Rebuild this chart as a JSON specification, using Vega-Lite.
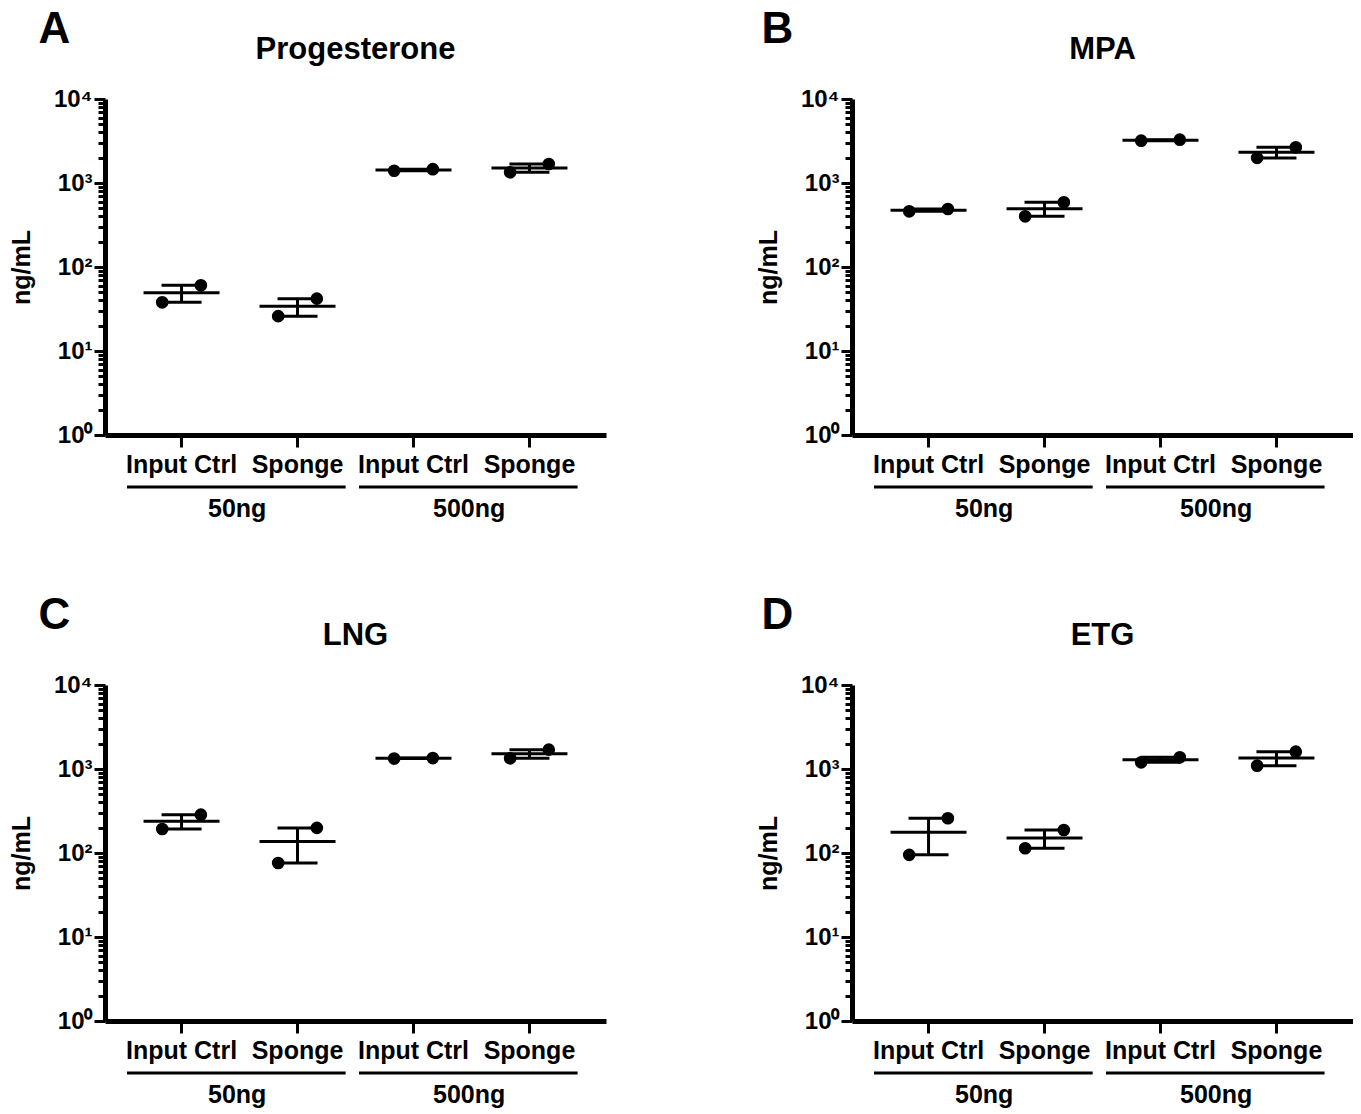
{
  "$schema": "https://vega.github.io/schema/vega-lite/v6.json",
  "background": "white",
  "padding": {"left": 9, "top": 8, "right": 0, "bottom": 0},
  "config": {
    "font": "Liberation Sans",
    "view": {"stroke": null},
    "title": {"color": "black", "fontWeight": "bold"},
    "axis": {"labelColor": "black", "titleColor": "black", "domainColor": "black", "tickColor": "black", "grid": false}
  },
  "datasets": {
    "obs": [
      {"panel": "Progesterone", "dose": "50ng", "treatment": "Input Ctrl", "group": "Input Ctrl|50ng", "rep": "1", "value": 38},
      {"panel": "Progesterone", "dose": "50ng", "treatment": "Input Ctrl", "group": "Input Ctrl|50ng", "rep": "2", "value": 60.5},
      {"panel": "Progesterone", "dose": "50ng", "treatment": "Sponge", "group": "Sponge|50ng", "rep": "1", "value": 26},
      {"panel": "Progesterone", "dose": "50ng", "treatment": "Sponge", "group": "Sponge|50ng", "rep": "2", "value": 42},
      {"panel": "Progesterone", "dose": "500ng", "treatment": "Input Ctrl", "group": "Input Ctrl|500ng", "rep": "1", "value": 1400},
      {"panel": "Progesterone", "dose": "500ng", "treatment": "Input Ctrl", "group": "Input Ctrl|500ng", "rep": "2", "value": 1460},
      {"panel": "Progesterone", "dose": "500ng", "treatment": "Sponge", "group": "Sponge|500ng", "rep": "1", "value": 1340},
      {"panel": "Progesterone", "dose": "500ng", "treatment": "Sponge", "group": "Sponge|500ng", "rep": "2", "value": 1683},
      {"panel": "MPA", "dose": "50ng", "treatment": "Input Ctrl", "group": "Input Ctrl|50ng", "rep": "1", "value": 460},
      {"panel": "MPA", "dose": "50ng", "treatment": "Input Ctrl", "group": "Input Ctrl|50ng", "rep": "2", "value": 490},
      {"panel": "MPA", "dose": "50ng", "treatment": "Sponge", "group": "Sponge|50ng", "rep": "1", "value": 401},
      {"panel": "MPA", "dose": "50ng", "treatment": "Sponge", "group": "Sponge|50ng", "rep": "2", "value": 589},
      {"panel": "MPA", "dose": "500ng", "treatment": "Input Ctrl", "group": "Input Ctrl|500ng", "rep": "1", "value": 3190},
      {"panel": "MPA", "dose": "500ng", "treatment": "Input Ctrl", "group": "Input Ctrl|500ng", "rep": "2", "value": 3280},
      {"panel": "MPA", "dose": "500ng", "treatment": "Sponge", "group": "Sponge|500ng", "rep": "1", "value": 1990},
      {"panel": "MPA", "dose": "500ng", "treatment": "Sponge", "group": "Sponge|500ng", "rep": "2", "value": 2660},
      {"panel": "LNG", "dose": "50ng", "treatment": "Input Ctrl", "group": "Input Ctrl|50ng", "rep": "1", "value": 193},
      {"panel": "LNG", "dose": "50ng", "treatment": "Input Ctrl", "group": "Input Ctrl|50ng", "rep": "2", "value": 286},
      {"panel": "LNG", "dose": "50ng", "treatment": "Sponge", "group": "Sponge|50ng", "rep": "1", "value": 76},
      {"panel": "LNG", "dose": "50ng", "treatment": "Sponge", "group": "Sponge|50ng", "rep": "2", "value": 199},
      {"panel": "LNG", "dose": "500ng", "treatment": "Input Ctrl", "group": "Input Ctrl|500ng", "rep": "1", "value": 1330},
      {"panel": "LNG", "dose": "500ng", "treatment": "Input Ctrl", "group": "Input Ctrl|500ng", "rep": "2", "value": 1350},
      {"panel": "LNG", "dose": "500ng", "treatment": "Sponge", "group": "Sponge|500ng", "rep": "1", "value": 1340},
      {"panel": "LNG", "dose": "500ng", "treatment": "Sponge", "group": "Sponge|500ng", "rep": "2", "value": 1700},
      {"panel": "ETG", "dose": "50ng", "treatment": "Input Ctrl", "group": "Input Ctrl|50ng", "rep": "1", "value": 95},
      {"panel": "ETG", "dose": "50ng", "treatment": "Input Ctrl", "group": "Input Ctrl|50ng", "rep": "2", "value": 259},
      {"panel": "ETG", "dose": "50ng", "treatment": "Sponge", "group": "Sponge|50ng", "rep": "1", "value": 114},
      {"panel": "ETG", "dose": "50ng", "treatment": "Sponge", "group": "Sponge|50ng", "rep": "2", "value": 188},
      {"panel": "ETG", "dose": "500ng", "treatment": "Input Ctrl", "group": "Input Ctrl|500ng", "rep": "1", "value": 1200},
      {"panel": "ETG", "dose": "500ng", "treatment": "Input Ctrl", "group": "Input Ctrl|500ng", "rep": "2", "value": 1377},
      {"panel": "ETG", "dose": "500ng", "treatment": "Sponge", "group": "Sponge|500ng", "rep": "1", "value": 1096},
      {"panel": "ETG", "dose": "500ng", "treatment": "Sponge", "group": "Sponge|500ng", "rep": "2", "value": 1608}
    ],
    "brackets": [
      {"dose": "50ng", "start": "Input Ctrl|50ng", "end": "Sponge|50ng"},
      {"dose": "500ng", "start": "Input Ctrl|500ng", "end": "Sponge|500ng"}
    ]
  },
  "columns": 2,
  "spacing": {"column": 150, "row": 72},
  "concat": [
    {
      "title": {"text": "A", "anchor": "start", "fontSize": 44, "offset": -18, "dx": 29},
      "vconcat": [{
        "title": {"text": "Progesterone", "fontSize": 31, "offset": 21},
        "width": 501, "height": 336,
        "layer": [
          {"data": {"name": "obs"}, "transform": [{"filter": "datum.panel == 'Progesterone'"}],
           "mark": {"type": "errorbar", "extent": "stderr", "ticks": {"size": 40, "thickness": 3, "color": "black", "opacity": 1}, "rule": {"strokeWidth": 3, "color": "black", "opacity": 1}},
           "encoding": {
             "x": {"field": "group", "type": "nominal", "scale": {"domain": ["Input Ctrl|50ng", "Sponge|50ng", "Input Ctrl|500ng", "Sponge|500ng"], "paddingInner": 0, "paddingOuter": 0.16}, "axis": {"title": null, "labelExpr": "split(datum.label, '|')[0]", "labelAngle": 0, "labelFontSize": 25, "labelFontWeight": "bold", "labelPadding": 5, "tickSize": 12, "tickWidth": 3, "domainWidth": 5}},
             "y": {"field": "value", "type": "quantitative", "scale": {"type": "log", "domain": [1, 10000], "nice": false}, "axis": {"title": "ng/mL", "titleFontSize": 25, "titleFontWeight": "bold", "titlePadding": 19, "values": [1,2,3,4,5,6,7,8,9,10,20,30,40,50,60,70,80,90,100,200,300,400,500,600,700,800,900,1000,2000,3000,4000,5000,6000,7000,8000,9000,10000], "labelExpr": "datum.value==1?'10⁰':datum.value==10?'10¹':datum.value==100?'10²':datum.value==1000?'10³':datum.value==10000?'10⁴':''", "labelFontSize": 24, "labelFontWeight": "bold", "labelOverlap": false, "labelPadding": 2, "tickSize": {"condition": {"test": "indexof([1,10,100,1000,10000], datum.value) >= 0", "value": 11}, "value": 7}, "tickWidth": 3, "domainWidth": 5}}
           }},
          {"data": {"name": "obs"}, "transform": [{"filter": "datum.panel == 'Progesterone'"}],
           "mark": {"type": "tick", "size": 76, "thickness": 3, "color": "black", "opacity": 1},
           "encoding": {"x": {"field": "group", "type": "nominal"}, "y": {"aggregate": "mean", "field": "value", "type": "quantitative"}}},
          {"data": {"name": "obs"}, "transform": [{"filter": "datum.panel == 'Progesterone'"}],
           "mark": {"type": "circle", "size": 160, "color": "black", "opacity": 1},
           "encoding": {"x": {"field": "group", "type": "nominal"}, "xOffset": {"field": "rep", "type": "nominal", "scale": {"type": "point", "padding": 2.136}}, "y": {"field": "value", "type": "quantitative"}}},
          {"data": {"name": "brackets"},
           "mark": {"type": "rule", "strokeWidth": 3, "color": "black"},
           "encoding": {"x": {"field": "start", "type": "nominal", "bandPosition": 0.03}, "x2": {"field": "end", "bandPosition": 0.915}, "y": {"value": 388}}},
          {"data": {"name": "brackets"},
           "mark": {"type": "text", "fontSize": 25, "fontWeight": "bold", "baseline": "alphabetic", "color": "black"},
           "encoding": {"x": {"field": "start", "type": "nominal", "bandPosition": 0.98}, "y": {"value": 418}, "text": {"field": "dose"}}}
        ]
      }]
    },
    {
      "title": {"text": "B", "anchor": "start", "fontSize": 44, "offset": -18, "dx": 5},
      "vconcat": [{
        "title": {"text": "MPA", "fontSize": 31, "offset": 21},
        "width": 501, "height": 336,
        "layer": [
          {"data": {"name": "obs"}, "transform": [{"filter": "datum.panel == 'MPA'"}],
           "mark": {"type": "errorbar", "extent": "stderr", "ticks": {"size": 40, "thickness": 3, "color": "black", "opacity": 1}, "rule": {"strokeWidth": 3, "color": "black", "opacity": 1}},
           "encoding": {
             "x": {"field": "group", "type": "nominal", "scale": {"domain": ["Input Ctrl|50ng", "Sponge|50ng", "Input Ctrl|500ng", "Sponge|500ng"], "paddingInner": 0, "paddingOuter": 0.16}, "axis": {"title": null, "labelExpr": "split(datum.label, '|')[0]", "labelAngle": 0, "labelFontSize": 25, "labelFontWeight": "bold", "labelPadding": 5, "tickSize": 12, "tickWidth": 3, "domainWidth": 5}},
             "y": {"field": "value", "type": "quantitative", "scale": {"type": "log", "domain": [1, 10000], "nice": false}, "axis": {"title": "ng/mL", "titleFontSize": 25, "titleFontWeight": "bold", "titlePadding": 19, "values": [1,2,3,4,5,6,7,8,9,10,20,30,40,50,60,70,80,90,100,200,300,400,500,600,700,800,900,1000,2000,3000,4000,5000,6000,7000,8000,9000,10000], "labelExpr": "datum.value==1?'10⁰':datum.value==10?'10¹':datum.value==100?'10²':datum.value==1000?'10³':datum.value==10000?'10⁴':''", "labelFontSize": 24, "labelFontWeight": "bold", "labelOverlap": false, "labelPadding": 2, "tickSize": {"condition": {"test": "indexof([1,10,100,1000,10000], datum.value) >= 0", "value": 11}, "value": 7}, "tickWidth": 3, "domainWidth": 5}}
           }},
          {"data": {"name": "obs"}, "transform": [{"filter": "datum.panel == 'MPA'"}],
           "mark": {"type": "tick", "size": 76, "thickness": 3, "color": "black", "opacity": 1},
           "encoding": {"x": {"field": "group", "type": "nominal"}, "y": {"aggregate": "mean", "field": "value", "type": "quantitative"}}},
          {"data": {"name": "obs"}, "transform": [{"filter": "datum.panel == 'MPA'"}],
           "mark": {"type": "circle", "size": 160, "color": "black", "opacity": 1},
           "encoding": {"x": {"field": "group", "type": "nominal"}, "xOffset": {"field": "rep", "type": "nominal", "scale": {"type": "point", "padding": 2.136}}, "y": {"field": "value", "type": "quantitative"}}},
          {"data": {"name": "brackets"},
           "mark": {"type": "rule", "strokeWidth": 3, "color": "black"},
           "encoding": {"x": {"field": "start", "type": "nominal", "bandPosition": 0.03}, "x2": {"field": "end", "bandPosition": 0.915}, "y": {"value": 388}}},
          {"data": {"name": "brackets"},
           "mark": {"type": "text", "fontSize": 25, "fontWeight": "bold", "baseline": "alphabetic", "color": "black"},
           "encoding": {"x": {"field": "start", "type": "nominal", "bandPosition": 0.98}, "y": {"value": 418}, "text": {"field": "dose"}}}
        ]
      }]
    },
    {
      "title": {"text": "C", "anchor": "start", "fontSize": 44, "offset": -18, "dx": 29},
      "vconcat": [{
        "title": {"text": "LNG", "fontSize": 31, "offset": 21},
        "width": 501, "height": 336,
        "layer": [
          {"data": {"name": "obs"}, "transform": [{"filter": "datum.panel == 'LNG'"}],
           "mark": {"type": "errorbar", "extent": "stderr", "ticks": {"size": 40, "thickness": 3, "color": "black", "opacity": 1}, "rule": {"strokeWidth": 3, "color": "black", "opacity": 1}},
           "encoding": {
             "x": {"field": "group", "type": "nominal", "scale": {"domain": ["Input Ctrl|50ng", "Sponge|50ng", "Input Ctrl|500ng", "Sponge|500ng"], "paddingInner": 0, "paddingOuter": 0.16}, "axis": {"title": null, "labelExpr": "split(datum.label, '|')[0]", "labelAngle": 0, "labelFontSize": 25, "labelFontWeight": "bold", "labelPadding": 5, "tickSize": 12, "tickWidth": 3, "domainWidth": 5}},
             "y": {"field": "value", "type": "quantitative", "scale": {"type": "log", "domain": [1, 10000], "nice": false}, "axis": {"title": "ng/mL", "titleFontSize": 25, "titleFontWeight": "bold", "titlePadding": 19, "values": [1,2,3,4,5,6,7,8,9,10,20,30,40,50,60,70,80,90,100,200,300,400,500,600,700,800,900,1000,2000,3000,4000,5000,6000,7000,8000,9000,10000], "labelExpr": "datum.value==1?'10⁰':datum.value==10?'10¹':datum.value==100?'10²':datum.value==1000?'10³':datum.value==10000?'10⁴':''", "labelFontSize": 24, "labelFontWeight": "bold", "labelOverlap": false, "labelPadding": 2, "tickSize": {"condition": {"test": "indexof([1,10,100,1000,10000], datum.value) >= 0", "value": 11}, "value": 7}, "tickWidth": 3, "domainWidth": 5}}
           }},
          {"data": {"name": "obs"}, "transform": [{"filter": "datum.panel == 'LNG'"}],
           "mark": {"type": "tick", "size": 76, "thickness": 3, "color": "black", "opacity": 1},
           "encoding": {"x": {"field": "group", "type": "nominal"}, "y": {"aggregate": "mean", "field": "value", "type": "quantitative"}}},
          {"data": {"name": "obs"}, "transform": [{"filter": "datum.panel == 'LNG'"}],
           "mark": {"type": "circle", "size": 160, "color": "black", "opacity": 1},
           "encoding": {"x": {"field": "group", "type": "nominal"}, "xOffset": {"field": "rep", "type": "nominal", "scale": {"type": "point", "padding": 2.136}}, "y": {"field": "value", "type": "quantitative"}}},
          {"data": {"name": "brackets"},
           "mark": {"type": "rule", "strokeWidth": 3, "color": "black"},
           "encoding": {"x": {"field": "start", "type": "nominal", "bandPosition": 0.03}, "x2": {"field": "end", "bandPosition": 0.915}, "y": {"value": 388}}},
          {"data": {"name": "brackets"},
           "mark": {"type": "text", "fontSize": 25, "fontWeight": "bold", "baseline": "alphabetic", "color": "black"},
           "encoding": {"x": {"field": "start", "type": "nominal", "bandPosition": 0.98}, "y": {"value": 418}, "text": {"field": "dose"}}}
        ]
      }]
    },
    {
      "title": {"text": "D", "anchor": "start", "fontSize": 44, "offset": -18, "dx": 5},
      "vconcat": [{
        "title": {"text": "ETG", "fontSize": 31, "offset": 21},
        "width": 501, "height": 336,
        "layer": [
          {"data": {"name": "obs"}, "transform": [{"filter": "datum.panel == 'ETG'"}],
           "mark": {"type": "errorbar", "extent": "stderr", "ticks": {"size": 40, "thickness": 3, "color": "black", "opacity": 1}, "rule": {"strokeWidth": 3, "color": "black", "opacity": 1}},
           "encoding": {
             "x": {"field": "group", "type": "nominal", "scale": {"domain": ["Input Ctrl|50ng", "Sponge|50ng", "Input Ctrl|500ng", "Sponge|500ng"], "paddingInner": 0, "paddingOuter": 0.16}, "axis": {"title": null, "labelExpr": "split(datum.label, '|')[0]", "labelAngle": 0, "labelFontSize": 25, "labelFontWeight": "bold", "labelPadding": 5, "tickSize": 12, "tickWidth": 3, "domainWidth": 5}},
             "y": {"field": "value", "type": "quantitative", "scale": {"type": "log", "domain": [1, 10000], "nice": false}, "axis": {"title": "ng/mL", "titleFontSize": 25, "titleFontWeight": "bold", "titlePadding": 19, "values": [1,2,3,4,5,6,7,8,9,10,20,30,40,50,60,70,80,90,100,200,300,400,500,600,700,800,900,1000,2000,3000,4000,5000,6000,7000,8000,9000,10000], "labelExpr": "datum.value==1?'10⁰':datum.value==10?'10¹':datum.value==100?'10²':datum.value==1000?'10³':datum.value==10000?'10⁴':''", "labelFontSize": 24, "labelFontWeight": "bold", "labelOverlap": false, "labelPadding": 2, "tickSize": {"condition": {"test": "indexof([1,10,100,1000,10000], datum.value) >= 0", "value": 11}, "value": 7}, "tickWidth": 3, "domainWidth": 5}}
           }},
          {"data": {"name": "obs"}, "transform": [{"filter": "datum.panel == 'ETG'"}],
           "mark": {"type": "tick", "size": 76, "thickness": 3, "color": "black", "opacity": 1},
           "encoding": {"x": {"field": "group", "type": "nominal"}, "y": {"aggregate": "mean", "field": "value", "type": "quantitative"}}},
          {"data": {"name": "obs"}, "transform": [{"filter": "datum.panel == 'ETG'"}],
           "mark": {"type": "circle", "size": 160, "color": "black", "opacity": 1},
           "encoding": {"x": {"field": "group", "type": "nominal"}, "xOffset": {"field": "rep", "type": "nominal", "scale": {"type": "point", "padding": 2.136}}, "y": {"field": "value", "type": "quantitative"}}},
          {"data": {"name": "brackets"},
           "mark": {"type": "rule", "strokeWidth": 3, "color": "black"},
           "encoding": {"x": {"field": "start", "type": "nominal", "bandPosition": 0.03}, "x2": {"field": "end", "bandPosition": 0.915}, "y": {"value": 388}}},
          {"data": {"name": "brackets"},
           "mark": {"type": "text", "fontSize": 25, "fontWeight": "bold", "baseline": "alphabetic", "color": "black"},
           "encoding": {"x": {"field": "start", "type": "nominal", "bandPosition": 0.98}, "y": {"value": 418}, "text": {"field": "dose"}}}
        ]
      }]
    }
  ]
}
